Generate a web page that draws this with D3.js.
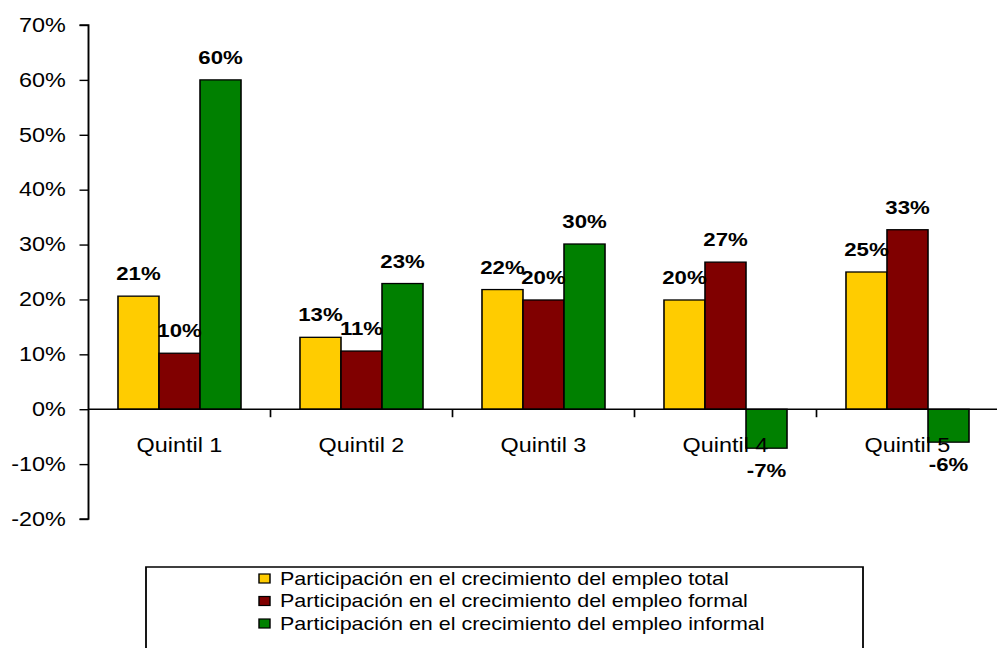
<!DOCTYPE html>
<html><head><meta charset="utf-8">
<script src="https://cdn.jsdelivr.net/npm/d3@7"></script>
<style>html,body{margin:0;padding:0;background:#fff;overflow:hidden}svg{display:block}</style>
</head><body>
<script>
const categories = ["Quintil 1","Quintil 2","Quintil 3","Quintil 4","Quintil 5"];
const seriesNames = [
  "Participación en el crecimiento del empleo total",
  "Participación en el crecimiento del empleo formal",
  "Participación en el crecimiento del empleo informal"
];
const totalValues = [0.206, 0.131, 0.218, 0.199, 0.250];
const formalValues = [0.102, 0.106, 0.199, 0.268, 0.327];
const informalValues = [0.600, 0.229, 0.301, -0.071, -0.060];
const seriesColors = ["#FFCC00", "#800000", "#008000"];
const yTicks = [-0.2,-0.1,0,0.1,0.2,0.3,0.4,0.5,0.6,0.7];

const series = [totalValues, formalValues, informalValues];
const W = 997, H = 648, SX = 1.2;            // original picture is stretched horizontally
const VW = W / SX;
const fontFam = "'Liberation Sans', Arial, Helvetica, sans-serif";

const svg = d3.select("body").append("svg")
  .attr("width", W).attr("height", H)
  .attr("viewBox", `0 0 ${VW} ${H}`)
  .attr("preserveAspectRatio", "none");

const x0 = 88.5 / SX, x1 = 998.5 / SX;
const y = d3.scaleLinear().domain([-0.2, 0.7]).range([519, 25]);
const x = d3.scaleBand().domain(categories).range([x0, x1]).paddingInner(0.324).paddingOuter(0.162);
const xs = d3.scaleBand().domain(d3.range(series.length)).range([0, x.bandwidth()]);
const pct = d3.formatLocale({decimal: ".", thousands: ",", grouping: [3], currency: ["", ""], minus: "-"}).format(".0%");

// bars
series.forEach((vals, si) => {
  svg.append("g").selectAll("rect").data(vals).join("rect")
    .attr("x", (d, i) => x(categories[i]) + xs(si))
    .attr("width", xs.bandwidth())
    .attr("y", d => y(Math.max(0, d)))
    .attr("height", d => Math.abs(y(d) - y(0)))
    .attr("fill", seriesColors[si])
    .attr("stroke", "#000").attr("stroke-width", 1.3);
});

// y axis
const yAxis = svg.append("g").attr("transform", `translate(${x0},0)`)
  .call(d3.axisLeft(y).tickValues(yTicks).tickFormat(pct).tickSize(7.5).tickPadding(11.5));
yAxis.select(".domain").attr("stroke", "#000").attr("stroke-width", 1.6).attr("d", `M-7.5,${y(-0.2)}H0V${y(0.7)}H-7.5`);
yAxis.selectAll(".tick line").attr("stroke", "#000").attr("stroke-width", 1.4);
yAxis.selectAll("text").attr("font-family", fontFam).attr("font-size", 19.5).attr("fill", "#000");

// x axis at zero
const xAxis = svg.append("g").attr("transform", `translate(0,${y(0)})`);
xAxis.append("line").attr("x1", x0).attr("x2", x1).attr("stroke", "#000").attr("stroke-width", 1.5);
xAxis.selectAll("line.tk").data(categories.slice(1)).join("line").attr("class","tk")
  .attr("x1", d => x(d) - x.step() * x.paddingInner() / 2)
  .attr("x2", d => x(d) - x.step() * x.paddingInner() / 2)
  .attr("y1", 0).attr("y2", 8).attr("stroke", "#000").attr("stroke-width", 1.4);
svg.append("g").selectAll("text").data(categories).join("text")
  .attr("x", d => x(d) + x.bandwidth() / 2).attr("y", 452)
  .attr("text-anchor", "middle").attr("font-family", fontFam).attr("font-size", 19.5)
  .text(d => d);

// data labels
series.forEach((vals, si) => {
  svg.append("g").selectAll("text").data(vals).join("text")
    .attr("x", (d, i) => x(categories[i]) + xs(si) + xs.bandwidth() / 2)
    .attr("y", d => d >= 0 ? y(d) - 16 : y(d) + 29)
    .attr("text-anchor", "middle").attr("font-family", fontFam)
    .attr("font-weight", "bold").attr("font-size", 18.5)
    .text(d => pct(d));
});

// legend
const lg = svg.append("g");
lg.append("rect").attr("x", 146 / SX).attr("y", 567).attr("width", (863 - 146) / SX).attr("height", 120)
  .attr("fill", "#fff").attr("stroke", "#000").attr("stroke-width", 1.5);
const rowY = [585, 607.5, 630];
seriesNames.forEach((name, i) => {
  lg.append("rect").attr("x", 259 / SX).attr("y", rowY[i] - 11).attr("width", 11 / SX).attr("height", 9)
    .attr("fill", seriesColors[i]).attr("stroke", "#000").attr("stroke-width", 1.2);
  lg.append("text").attr("x", 280 / SX).attr("y", rowY[i])
    .attr("font-family", fontFam).attr("font-size", 17.9).text(name);
});
</script>
</body></html>
